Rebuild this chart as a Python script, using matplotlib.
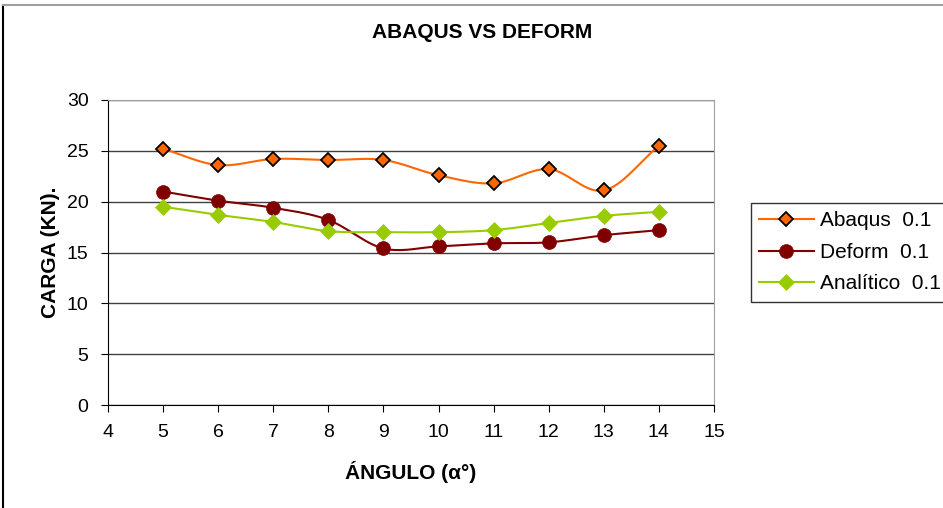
import numpy as np
import matplotlib
matplotlib.use('Agg')
import matplotlib.pyplot as plt
from matplotlib.lines import Line2D

plt.rcParams['font.family'] = ['Liberation Sans', 'DejaVu Sans']

angulo = [5, 6, 7, 8, 9, 10, 11, 12, 13, 14]
abaqus = [25.2, 23.6, 24.2, 24.1, 24.1, 22.6, 21.8, 23.2, 21.1, 25.5]
deform = [21.0, 20.1, 19.4, 18.2, 15.4, 15.6, 15.9, 16.0, 16.7, 17.2]
analitico = [19.5, 18.7, 18.0, 17.1, 17.0, 17.0, 17.2, 17.9, 18.6, 19.0]


def smooth(x, y, n=20):
    # Catmull-Rom like Excel's smoothed line
    x = np.asarray(x, float)
    y = np.asarray(y, float)
    px = np.concatenate([[2 * x[0] - x[1]], x, [2 * x[-1] - x[-2]]])
    py = np.concatenate([[2 * y[0] - y[1]], y, [2 * y[-1] - y[-2]]])
    xs, ys = [], []
    t = np.linspace(0, 1, n)
    for i in range(1, len(px) - 2):
        for p, out in ((px, xs), (py, ys)):
            p0, p1, p2, p3 = p[i - 1], p[i], p[i + 1], p[i + 2]
            out.extend(0.5 * ((2 * p1) + (-p0 + p2) * t
                              + (2 * p0 - 5 * p1 + 4 * p2 - p3) * t ** 2
                              + (-p0 + 3 * p1 - 3 * p2 + p3) * t ** 3))
    return xs, ys


fig = plt.figure(figsize=(9.43, 5.08), dpi=100)
ax = fig.add_axes([108 / 943, 1 - 405 / 508, (714 - 108) / 943, 305 / 508])

series = [
    (abaqus, '#FF6600', 'D', 'black', 7, 'Abaqus  0.1'),
    (deform, '#800000', 'o', '#800000', 10, 'Deform  0.1'),
    (analitico, '#99CC00', 'D', '#99CC00', 8, 'Analítico  0.1'),
]
handles = []
for vals, col, mk, mec, ms, lab in series:
    sx, sy = smooth(angulo, vals)
    ax.plot(sx, sy, color=col, lw=1.5, zorder=3)
    ax.plot(angulo, vals, ls='none', marker=mk, color=col, markeredgecolor=mec,
            markeredgewidth=1.3 if mec == 'black' else 0.5, markersize=ms, zorder=4)
    handles.append(Line2D([], [], color=col, lw=1.5, marker=mk, markerfacecolor=col,
                          markeredgecolor=mec, markersize=ms,
                          markeredgewidth=1.3 if mec == 'black' else 0.5, label=lab))

ax.set_xlim(4, 15)
ax.set_ylim(0, 30)
ax.set_xticks(range(4, 16))
ax.set_yticks(range(0, 31, 5))
ax.yaxis.grid(True, color='#404040', lw=1)
ax.set_axisbelow(True)
ax.tick_params(labelsize=14, direction='out', length=5, color='black', pad=9)
for s in ['top', 'right']:
    ax.spines[s].set_color('#a0a0a0')
for s in ['left', 'bottom']:
    ax.spines[s].set_color('black')

ax.set_xlabel('ÁNGULO (α°)', fontsize=15, fontweight='bold', labelpad=14)
ax.set_ylabel('CARGA (KN).', fontsize=15, fontweight='bold', labelpad=5)
fig.text(0.511, 1 - 33 / 508, 'ABAQUS VS DEFORM', ha='center', va='center',
         fontsize=15, fontweight='bold')

leg = fig.legend(handles=handles, loc='upper left', bbox_to_anchor=(751 / 943, 1 - 203 / 508),
                 frameon=True, fancybox=False, edgecolor='black', fontsize=15,
                 handlelength=2.6, borderpad=0.4, labelspacing=0.6, handletextpad=0.3,
                 borderaxespad=0)
leg.get_frame().set_linewidth(1)

# chart border
fig.add_artist(plt.Line2D([3 / 943, 3 / 943], [0, 1 - 5 / 508], color='black', lw=1.5))
fig.add_artist(plt.Line2D([3 / 943, 1], [1 - 5 / 508, 1 - 5 / 508], color='#a0a0a0', lw=1.5))

fig.savefig('out.png', dpi=100)
